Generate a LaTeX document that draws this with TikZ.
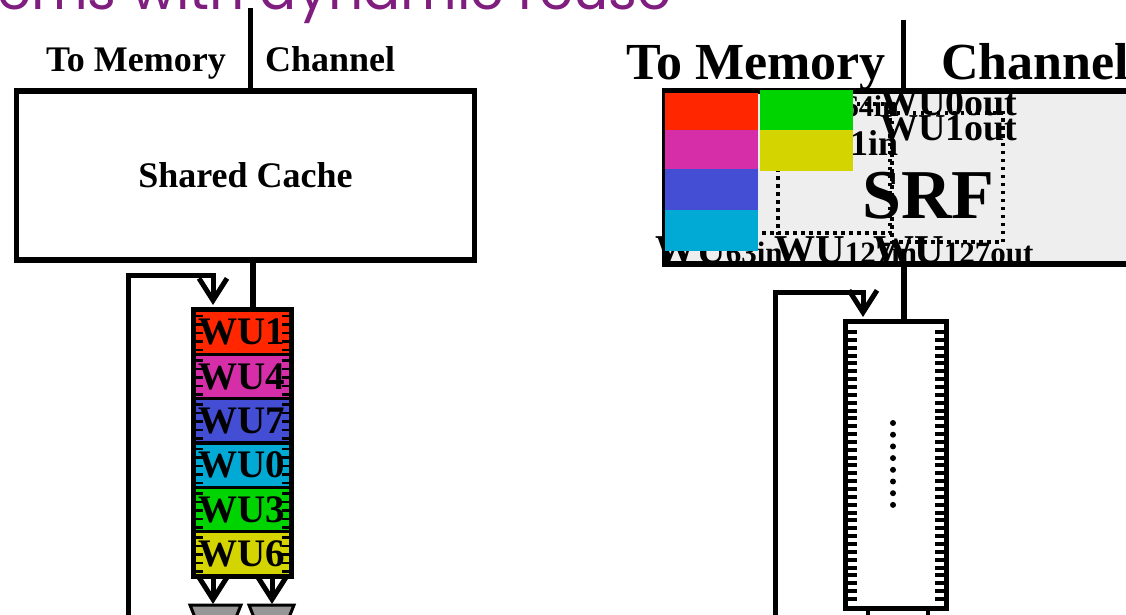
\documentclass[tikz,border=0pt]{standalone}
\usepackage{fontspec}
\setmainfont{Liberation Serif}
\newfontfamily\titlefont{Poppins}
\usetikzlibrary{arrows.meta}
\definecolor{wured}{RGB}{255,38,0}
\definecolor{wumag}{RGB}{214,46,168}
\definecolor{wublue}{RGB}{68,78,212}
\definecolor{wucyan}{RGB}{0,170,212}
\definecolor{wugreen}{RGB}{0,212,0}
\definecolor{wuyellow}{RGB}{212,212,0}
\definecolor{titlepurple}{RGB}{128,30,128}
\definecolor{srfgray}{RGB}{238,238,238}
\definecolor{muxgray}{RGB}{150,150,150}
\newcommand{\fsz}[1]{\fontsize{#1}{#1}\selectfont}
\begin{document}
\begin{tikzpicture}[x=1pt,y=-1pt,line join=miter,
  lbl/.style={inner sep=0,font=\bfseries\fsz{36}},
  bigl/.style={inner sep=0,font=\bfseries\fsz{52}},
  wire/.style={line width=5.5},
  fb/.style={line width=5,-{Straight Barb[length=22pt,width=28pt]}},
  cell/.style={draw,line width=3,minimum width=96,minimum height=44.33,inner sep=0,font=\bfseries\fsz{39}},
  tick/.style={line width=2.6},
  rtick/.style={line width=4},
  dotted rect/.style={line width=3.5,dash pattern=on 3.5 off 4.5},
  srftxt/.style={inner sep=0,anchor=base west,font=\bfseries\fsz{38}},
  block/.style={inner sep=0,minimum width=93,anchor=north west}]
\useasboundingbox (0,0) rectangle (1126,615);
\clip (0,0) rectangle (1126,615);

% title
\node[anchor=base west,inner sep=0,text=titlepurple,font=\titlefont\fsz{55}] (title) at (-3,10) {ems with dynamic reuse};

% ---------- left diagram ----------
\node[lbl,anchor=base east] (tomemL) at (226,72) {To Memory};
\node[lbl,anchor=base west] (chanL) at (265,72) {Channel};
\coordinate (topL) at (250.5,8);
\node[draw,line width=5.5,minimum width=458,minimum height=169,inner sep=0,font=\bfseries\fsz{36}] (cache) at (245.5,175.5) {Shared Cache};
\draw[wire] (topL) -- (topL |- cache.north);

% WU column
\foreach \n/\c [count=\i from 0] in {WU1/wured,WU4/wumag,WU7/wublue,WU0/wucyan,WU3/wugreen,WU6/wuyellow}{
  \node[cell,fill=\c] (\n) at (242,{310+44.33*\i+22.17}) {\n};
  \foreach \o in {6,14.5,23,31.5,40}{
    \draw[tick] (195.5,{310+44.33*\i+\o}) -- (202.5,{310+44.33*\i+\o});
    \draw[tick] (281.5,{310+44.33*\i+\o}) -- (288.5,{310+44.33*\i+\o});
  }
}
\draw[line width=4] (WU1.north west) rectangle (WU6.south east);

\coordinate (cacheout) at (253,260);
\draw[wire] (cacheout) -- (cacheout |- WU1.north);

\coordinate (loopL0) at (128,625);
\coordinate (loopL1) at (213,305);
\draw[fb] (loopL0) -- (128,275.5) -- (213,275.5) -- (loopL1);

\coordinate (outA0) at (213,577);
\coordinate (outA1) at (213,604);
\coordinate (outB0) at (272,577);
\coordinate (outB1) at (272,604);
\draw[fb] (outA0) -- (outA1);
\draw[fb] (outB0) -- (outB1);
\draw[line width=3,fill=muxgray] (190,605) -- (241,605) -- (231,630) -- (200,630) -- cycle;
\draw[line width=3,fill=muxgray] (249,605) -- (294,605) -- (284,630) -- (259,630) -- cycle;

% ---------- right diagram ----------
\node[bigl,anchor=base east] (tomemR) at (886,80) {To Memory};
\node[bigl,anchor=base west] (chanR) at (941,80) {Channel};
\coordinate (topR) at (903.5,20);

\node[fill=srfgray,minimum width=475,minimum height=172.5,inner sep=0] (srf) at (902.5,177.75) {};
\draw[wire] (topR) -- (topR |- srf.north);

% texts inside SRF
\node[srftxt,font=\bfseries\fsz{30}] (in64) at (792,117) {WU64in};
\node[srftxt,font=\bfseries\fsz{36}] (in1) at (788,155) {WU1in};
\node[srftxt] (out0) at (880,116) {WU0out};
\node[srftxt] (out1) at (880,140) {WU1out};
\node[srftxt,font=\bfseries\fsz{70}] (srflabel) at (862,218) {SRF};
\node[srftxt,font=\bfseries\fsz{41}] (in63) at (655,263) {WU{\fsz{31}63in}};
\node[srftxt,font=\bfseries\fsz{41}] (in127) at (774,263) {WU{\fsz{31}127in}};
\node[srftxt,font=\bfseries\fsz{41}] (out127) at (873,263) {WU{\fsz{31}127out}};

\draw[dotted rect] (778,104) rectangle (890,233);
\draw[dotted rect] (762,233) -- (778,233);
\draw[dotted rect] (892,113) rectangle (1003,242);

\draw[line width=6] (srf.north west) rectangle (srf.south east);

% colour blocks
\node[block,fill=wured,minimum height=37] (bR) at (665,93) {};
\node[block,fill=wumag,minimum height=39] (bM) at (665,130) {};
\node[block,fill=wublue,minimum height=41] (bB) at (665,169) {};
\node[block,fill=wucyan,minimum height=41] (bC) at (665,210) {};
\node[block,fill=wugreen,minimum height=40] (bG) at (760,90) {};
\node[block,fill=wuyellow,minimum height=41] (bY) at (760,130) {};

% register column
\node[draw,line width=5,minimum width=101,minimum height=287,inner sep=0] (rf) at (896,465) {};
\foreach \k in {0,...,34}{
  \draw[rtick] (847,{332+7.85*\k}) -- (857,{332+7.85*\k});
  \draw[rtick] (935,{332+7.85*\k}) -- (945,{332+7.85*\k});
}
\foreach \k in {0,...,7}{
  \fill (893,{423+11.7*\k}) circle (3);
}
\coordinate (srfout) at (904,264);
\draw[wire] (srfout) -- (srfout |- rf.north);

\coordinate (loopR0) at (775.5,625);
\coordinate (loopR1) at (863,317);
\draw[fb] (loopR0) -- (775.5,292.5) -- (863,292.5) -- (loopR1);

\coordinate (stubA) at (868,625);
\coordinate (stubB) at (928,625);
\draw[line width=4] (rf.south -| stubA) -- (stubA);
\draw[line width=4] (rf.south -| stubB) -- (stubB);
\end{tikzpicture}
\end{document}
